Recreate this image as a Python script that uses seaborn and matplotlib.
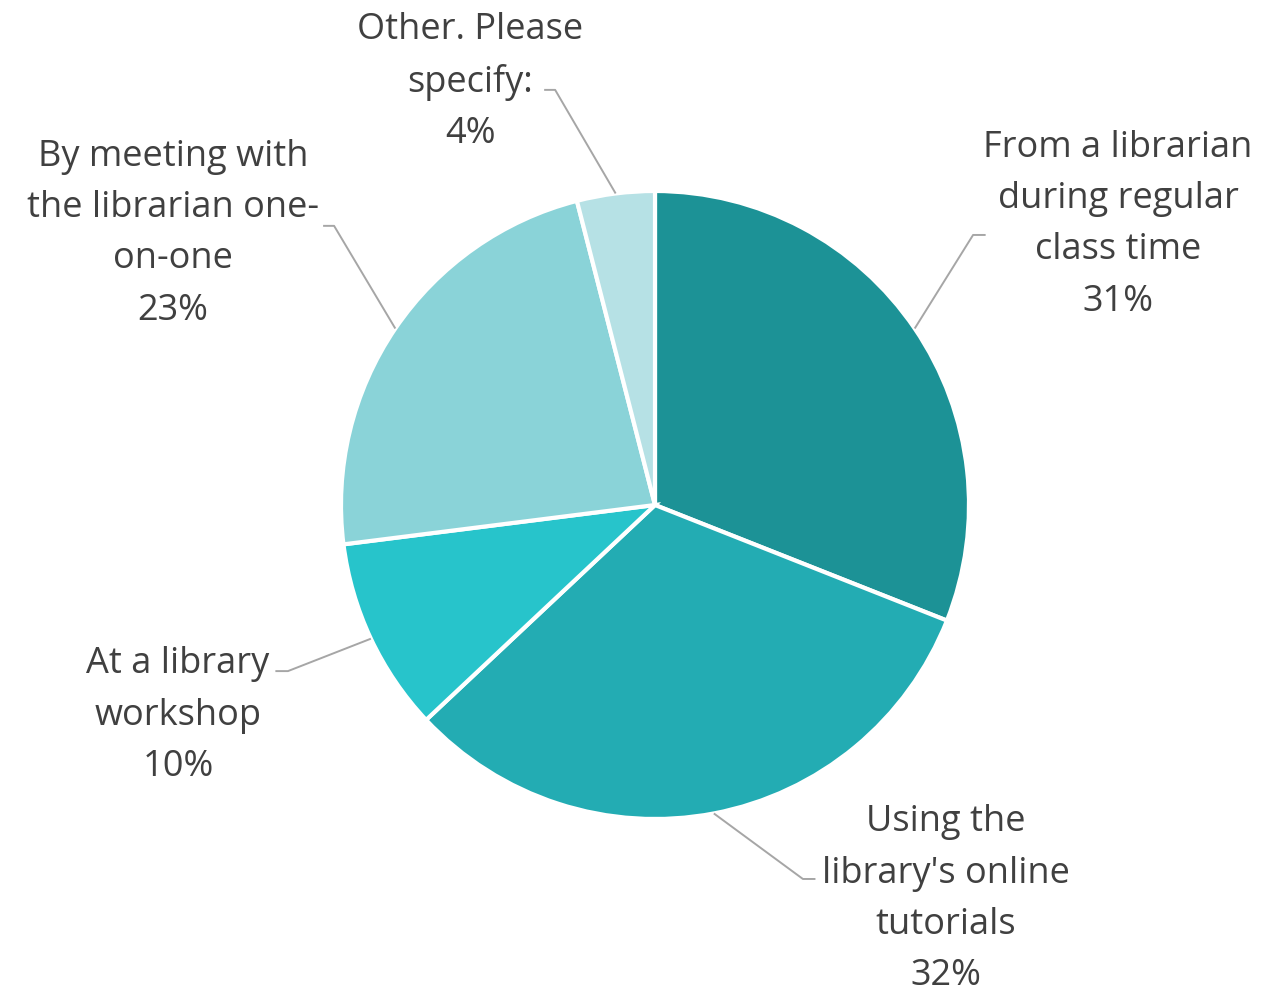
import matplotlib
matplotlib.use("Agg")
import matplotlib.pyplot as plt
import numpy as np
import seaborn as sns

# Survey responses: where students learned to use library resources
categories = [
    "From a librarian\nduring regular\nclass time",
    "Using the\nlibrary's online\ntutorials",
    "At a library\nworkshop",
    "By meeting with\nthe librarian one-\non-one",
    "Other. Please\nspecify:",
]
shares = [31, 32, 10, 23, 4]
colors = ["#1C9296", "#23ACB3", "#27C4CB", "#8AD3D8", "#B6E1E5"]

# Label block centres and leader-line elbows (axes data units, radius = 1)
label_pos = [(1.475, 0.893), (0.927, -1.256), (-1.519, -0.671), (-1.535, 0.864), (-0.589, 1.348)]
elbows = [(1.013, 0.860), (0.471, -1.191), (-1.169, -0.529), (-1.022, 0.889), (-0.318, 1.322)]
elbow_tail = [0.04, 0.04, -0.04, -0.035, -0.035]

sns.set_theme(style="white")
plt.rcParams["font.family"] = ["Open Sans", "DejaVu Sans"]

W, H = 1276, 994
cx, cy, R = 655, 505, 314
fig = plt.figure(figsize=(W / 100, H / 100), dpi=100)
ax = fig.add_axes([0, 0, 1, 1])

wedges, _ = ax.pie(
    shares,
    colors=colors,
    startangle=90,
    counterclock=False,
    radius=1,
    wedgeprops=dict(edgecolor="white", linewidth=3),
)
ax.set_aspect("auto")
ax.set_xlim(-cx / R, (W - cx) / R)
ax.set_ylim(-(H - cy) / R, cy / R)
ax.set_axis_off()

text_color = "#404040"
line_color = "#A6A6A6"
for w, cat, val, (tx, ty), (ex, ey), tail in zip(wedges, categories, shares, label_pos, elbows, elbow_tail):
    mid = np.deg2rad((w.theta1 + w.theta2) / 2)
    px, py = np.cos(mid), np.sin(mid)
    ax.plot([px, ex, ex + tail], [py, ey, ey], color=line_color, lw=1.4, solid_capstyle="butt")
    ax.text(tx, ty, f"{cat}\n{val}%", ha="center", va="center", multialignment="center",
            fontsize=26, color=text_color, linespacing=1.57)

fig.savefig("out.png", dpi=100)
